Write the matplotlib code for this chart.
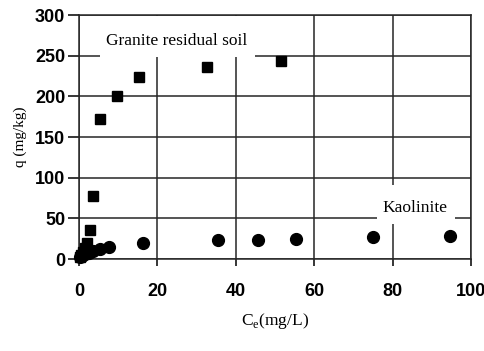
import matplotlib.pyplot as plt
from matplotlib.patches import Rectangle

# granite residual soil (squares)
granite_ce = [0.2, 0.5, 1.0, 1.5, 2.0, 2.8, 3.6, 5.4, 9.7, 15.3, 32.6, 51.5]
granite_q = [2, 5, 9, 14, 20, 36, 77, 172, 201, 224, 236, 244]

# kaolinite (circles)
kaol_ce = [0.3, 0.8, 1.5, 2.5, 3.5, 5.4, 7.7, 16.3, 35.5, 45.7, 55.4, 75.0, 94.7]
kaol_q = [2, 4, 6, 8, 10, 12, 15, 20, 23, 23, 25, 27, 28]

xticks = [0, 20, 40, 60, 80, 100]
yticks = [0, 50, 100, 150, 200, 250, 300]

fig = plt.figure(figsize=(4.85, 3.51), dpi=100)
ax = fig.add_axes([0.163, 0.262, 0.808, 0.695])

ax.set_xlim(0, 100)
ax.set_ylim(0, 300)
ax.set_xticks(xticks)
ax.set_yticks(yticks)
ax.grid(True, color='0.15', lw=1.1)
ax.set_axisbelow(True)
for s in ax.spines.values():
    s.set_color('0.15')
    s.set_linewidth(1.1)
    s.set_zorder(3)
ax.tick_params(direction='out', width=1.1, labelsize=13, colors='black')
ax.tick_params(axis='y', length=8, pad=2)
ax.tick_params(axis='x', length=5, pad=12)
for lab in ax.get_xticklabels() + ax.get_yticklabels():
    lab.set_family('Liberation Sans')
    lab.set_fontweight('bold')

ax.plot(granite_ce, granite_q, 's', color='black', ms=6.5, zorder=5, clip_on=False)
ax.plot(kaol_ce, kaol_q, 'o', color='black', ms=8.5, zorder=5, clip_on=False)

# white label boxes hiding the grid behind the labels
ax.add_patch(Rectangle((5.4, 248), 39.5, 50.5, facecolor='white', edgecolor='none', zorder=1))
ax.add_patch(Rectangle((76, 43), 20, 48, facecolor='white', edgecolor='none', zorder=1))

ax.text(25, 268, 'Granite residual soil', family='Liberation Serif', fontsize=12.5,
        ha='center', va='center', zorder=4)
ax.text(85.7, 63, 'Kaolinite', family='Liberation Serif', fontsize=12.5,
        ha='center', va='center', zorder=4)

ax.set_xlabel(r'C$_\mathregular{e}$(mg/L)', family='Liberation Serif', fontsize=12.5, labelpad=8)
ax.set_ylabel('q (mg/kg)', family='Liberation Serif', fontsize=11, labelpad=6)

fig.savefig('out.png', dpi=100)
